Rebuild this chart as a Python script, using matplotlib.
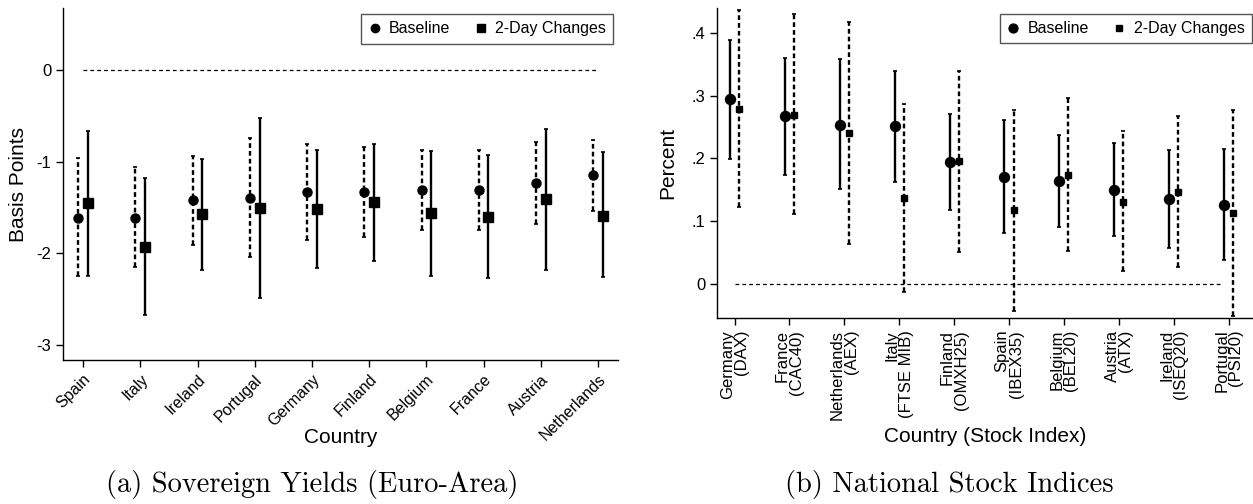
import numpy as np
import matplotlib.pyplot as plt
from matplotlib.lines import Line2D

# Panel (a): sovereign yields, basis points
countries = ["Spain", "Italy", "Ireland", "Portugal", "Germany",
             "Finland", "Belgium", "France", "Austria", "Netherlands"]
yld_base = [-1.61, -1.61, -1.42, -1.395, -1.33, -1.33, -1.31, -1.31, -1.235, -1.15]
yld_base_lo = [-2.25, -2.15, -1.91, -2.04, -1.85, -1.82, -1.75, -1.75, -1.68, -1.535]
yld_base_hi = [-0.965, -1.06, -0.94, -0.74, -0.81, -0.84, -0.87, -0.87, -0.79, -0.765]
yld_2d = [-1.455, -1.93, -1.575, -1.51, -1.52, -1.445, -1.555, -1.60, -1.41, -1.59]
yld_2d_lo = [-2.25, -2.67, -2.18, -2.49, -2.16, -2.08, -2.24, -2.27, -2.18, -2.26]
yld_2d_hi = [-0.67, -1.18, -0.976, -0.52, -0.875, -0.81, -0.88, -0.93, -0.64, -0.90]

# Panel (b): national stock indices, percent
indices = ["Germany\n(DAX)", "France\n(CAC40)", "Netherlands\n(AEX)", "Italy\n(FTSE MIB)",
           "Finland\n(OMXH25)", "Spain\n(IBEX35)", "Belgium\n(BEL20)", "Austria\n(ATX)",
           "Ireland\n(ISEQ20)", "Portugal\n(PSI20)"]
stk_base = [0.294, 0.267, 0.254, 0.251, 0.194, 0.171, 0.164, 0.150, 0.135, 0.126]
stk_base_lo = [0.199, 0.174, 0.151, 0.163, 0.118, 0.081, 0.091, 0.076, 0.057, 0.038]
stk_base_hi = [0.389, 0.361, 0.359, 0.340, 0.271, 0.261, 0.237, 0.224, 0.213, 0.215]
stk_2d = [0.279, 0.270, 0.240, 0.136, 0.195, 0.118, 0.174, 0.131, 0.147, 0.1125]
stk_2d_lo = [0.122, 0.111, 0.063, -0.014, 0.050, -0.043, 0.052, 0.020, 0.026, -0.052]
stk_2d_hi = [0.437, 0.431, 0.418, 0.287, 0.339, 0.278, 0.297, 0.243, 0.268, 0.278]

plt.rcParams['font.family'] = ['Liberation Sans', 'DejaVu Sans']
DOTTED = (0, (2.0, 1.3))


def draw_ci(ax, x, est, lo, hi, marker, ms, ls):
    est = np.array(est)
    err = [est - np.array(lo), np.array(hi) - est]
    eb = ax.errorbar(x, est, yerr=err, fmt=marker, color='black', ms=ms,
                     elinewidth=1.7, capsize=1.6, capthick=1.2, zorder=3)
    eb[2][0].set_linestyle(ls)


def style_axes(ax):
    for side in ['top', 'right']:
        ax.spines[side].set_visible(False)
    ax.spines['left'].set_linewidth(1.0)
    ax.spines['bottom'].set_linewidth(1.0)
    ax.tick_params(direction='out', length=5, width=1.0, labelsize=12)


def add_legend(ax, dot_size, sq_size, anchor):
    handles = [Line2D([], [], ls='none', marker='o', color='black', ms=dot_size),
               Line2D([], [], ls='none', marker='s', color='black', ms=sq_size)]
    leg = ax.legend(handles, ["Baseline", "2-Day Changes"], ncol=2, loc='upper right',
                    bbox_to_anchor=anchor, borderaxespad=0, fontsize=11.5, frameon=True,
                    fancybox=False, handlelength=0.8, handletextpad=0.5, columnspacing=1.5,
                    borderpad=0.45, framealpha=1)
    leg.get_frame().set_edgecolor('#555555')
    leg.get_frame().set_linewidth(1.0)


fig = plt.figure(figsize=(12.53, 5.04), dpi=100)

# ---- (a) Sovereign yields
ax1 = fig.add_axes([0.0503, 0.2857, 0.443, 0.698])
x = np.arange(1, len(countries) + 1)
ax1.hlines(0, 1, 10, colors='black', linestyles=(0, (3, 2.5)), linewidth=0.9)
draw_ci(ax1, x - 0.085, yld_base, yld_base_lo, yld_base_hi, 'o', 6.5, DOTTED)
draw_ci(ax1, x + 0.085, yld_2d, yld_2d_lo, yld_2d_hi, 's', 6.6, 'solid')
ax1.set_xlim(0.65, 10.35)
ax1.set_ylim(-3.16, 0.67)
ax1.set_yticks([0, -1, -2, -3])
ax1.set_yticklabels(["0", "-1", "-2", "-3"])
ax1.set_xticks(x)
style_axes(ax1)
ax1.set_xticklabels(countries, rotation=45, ha='right', rotation_mode='anchor', fontsize=11.5)
ax1.set_ylabel("Basis Points", fontsize=15, labelpad=6)
ax1.set_xlabel("Country", fontsize=15, va='center')
ax1.xaxis.set_label_coords(0.5, -0.219)
add_legend(ax1, 6.0, 6.2, (0.991, 0.983))

# ---- (b) Stock indices
ax2 = fig.add_axes([0.5722, 0.369, 0.4278, 0.615])
ax2.hlines(0, 1, 9.86, colors='black', linestyles=(0, (3, 2.5)), linewidth=0.9)
draw_ci(ax2, x - 0.085, stk_base, stk_base_lo, stk_base_hi, 'o', 7.2, 'solid')
draw_ci(ax2, x + 0.08, stk_2d, stk_2d_lo, stk_2d_hi, 's', 5.0, DOTTED)
ax2.set_xlim(0.68, 10.44)
ax2.set_ylim(-0.055, 0.44)
ax2.set_yticks([0, 0.1, 0.2, 0.3, 0.4])
ax2.set_yticklabels(["0", ".1", ".2", ".3", ".4"])
ax2.set_xticks(x)
ax2.set_xticklabels(indices, rotation=90, ha='center', va='top', multialignment='right',
                    linespacing=0.9)
style_axes(ax2)
ax2.set_ylabel("Percent", fontsize=15, labelpad=10)
ax2.set_xlabel("Country (Stock Index)", fontsize=15, va='center')
ax2.xaxis.set_label_coords(0.5, -0.383)
add_legend(ax2, 6.4, 5.0, (0.998, 0.981))

# Panel captions
fig.text(0.249, 0.038, "(a) Sovereign Yields (Euro-Area)", ha='center', va='center',
         fontsize=20.5, family='cmr10')
fig.text(0.758, 0.038, "(b) National Stock Indices", ha='center', va='center',
         fontsize=20.5, family='cmr10')

fig.savefig("out.png", dpi=100)
